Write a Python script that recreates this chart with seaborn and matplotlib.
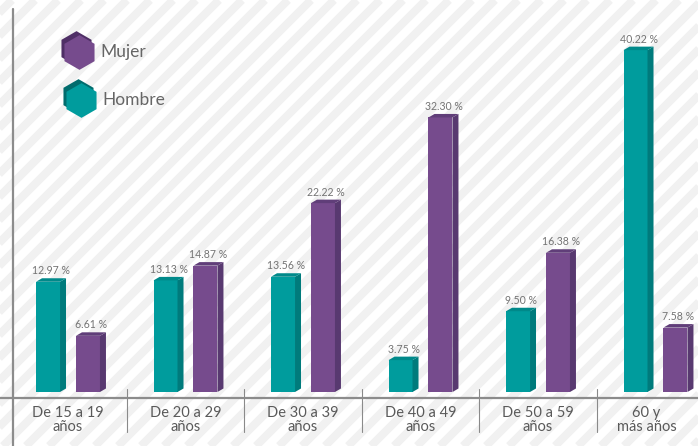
import matplotlib
matplotlib.use("Agg")
import matplotlib.pyplot as plt
from matplotlib.patches import Polygon
from matplotlib.lines import Line2D
import matplotlib.transforms as mtransforms
import seaborn as sns
import pandas as pd

# ---- data ----
grupos = ["De 15 a 19\naños", "De 20 a 29\naños", "De 30 a 39\naños",
          "De 40 a 49\naños", "De 50 a 59\naños", "60 y\nmás años"]
hombre = [12.97, 13.13, 13.56, 3.75, 9.50, 40.22]
mujer = [6.61, 14.87, 22.22, 32.30, 16.38, 7.58]
series = ["Hombre", "Mujer"]

df = pd.DataFrame({
    "grupo": grupos * 2,
    "pct": hombre + mujer,
    "sexo": ["Hombre"] * len(grupos) + ["Mujer"] * len(grupos),
})

sns.set_theme(style="white")
plt.rcParams["font.family"] = ["Lato", "DejaVu Sans"]

W, H = 698, 446
fig = plt.figure(figsize=(W / 100, H / 100), dpi=100)
fig.patch.set_facecolor("white")

# background stripes + legend layer (pixel coordinates, y downwards)
bg = fig.add_axes([0, 0, 1, 1], zorder=0)
bg.set_xlim(0, W)
bg.set_ylim(H, 0)
bg.axis("off")
for c in range(-480, 720, 23):
    bg.plot([c, c + H], [H, 0], color="#f1f1f1", lw=5.8, solid_capstyle="butt")

# main axes
PXX = 117.5   # px per category
PXY = 8.5     # px per percent
base_px = 392
ax = fig.add_axes([13 / W, 48 / H, 685 / W, 388 / H], zorder=2)
ax.patch.set_alpha(0)

front = {"Hombre": "#009c9d", "Mujer": "#764b8d"}
side = {"Hombre": "#007b7c", "Mujer": "#583970"}
top = {"Hombre": "#00898a", "Mujer": "#603e79"}

sns.barplot(data=df, x="grupo", y="pct", hue="sexo", hue_order=series,
            palette=front, width=0.68, gap=0.4, saturation=1,
            errorbar=None, legend=False, linewidth=0, ax=ax)

ax.set_xlim((13 - 68) / PXX, (698 - 68) / PXX)
ax.set_ylim(-(398 - base_px) / PXY, (base_px - 10) / PXY)

dx = 6 / PXX
dy = 3.5 / PXY
for cont, name, vals in zip(ax.containers, series, [hombre, mujer]):
    for bar, v in zip(cont, vals):
        x0 = bar.get_x()
        w = bar.get_width()
        h = bar.get_height()
        x1 = x0 + w
        ax.add_patch(Polygon([(x1, 0), (x1 + dx, dy), (x1 + dx, h + dy), (x1, h)],
                             closed=True, facecolor=side[name], edgecolor="none", zorder=3))
        ax.add_patch(Polygon([(x0, h), (x1, h), (x1 + dx, h + dy), (x0 + dx, h + dy)],
                             closed=True, facecolor=top[name], edgecolor="none", zorder=3))
        ax.annotate(f"{v:.2f} %", (x0 + (w + dx) / 2, h + dy), xytext=(0, 1.5),
                    textcoords="offset points", ha="center", va="bottom",
                    fontsize=7.6, color="#747474")

for s in ax.spines.values():
    s.set_visible(False)
ax.set_yticks([])
ax.set_xlabel("")
ax.set_ylabel("")
ax.tick_params(axis="x", length=0, pad=6, labelsize=10.5, labelcolor="#5a5a5a")
ax.set_xticks(range(len(grupos)))
ax.set_xticklabels(grupos, linespacing=1.0)
last = ax.get_xticklabels()[-1]
last.set_transform(last.get_transform() + mtransforms.ScaledTranslation(-9 / 100, 0, fig.dpi_scale_trans))

# group separators
for i in range(len(grupos) - 1):
    ax.plot([i + 0.5, i + 0.5], [(base_px - 389) / PXY, (base_px - 432) / PXY],
            color="#8a8a8a", lw=0.8, clip_on=False, zorder=1)

# axis lines
fig.add_artist(Line2D([0, 1], [48 / H, 48 / H], transform=fig.transFigure,
                      color="#8c8c8c", lw=1.6, zorder=5))
fig.add_artist(Line2D([13 / W, 13 / W], [0, 437 / H], transform=fig.transFigure,
                      color="#8c8c8c", lw=1.6, zorder=5))

# legend (hexagons)
leg = [("Mujer", 79, 52, "#764b8d", "#4f2f66"), ("Hombre", 81, 100, "#009c9d", "#006c6d")]
for label, cx, cy, fc, dc in leg:
    bg.plot([cx - 3], [cy - 4], marker="h", markersize=25, color=dc, mec="none")
    bg.plot([cx], [cy], marker="h", markersize=25, color=fc, mec="none")
    bg.text(cx + 21, cy, label, fontsize=12.5, color="#666666", va="center", ha="left")

fig.savefig("out.png", dpi=100, facecolor="white")
